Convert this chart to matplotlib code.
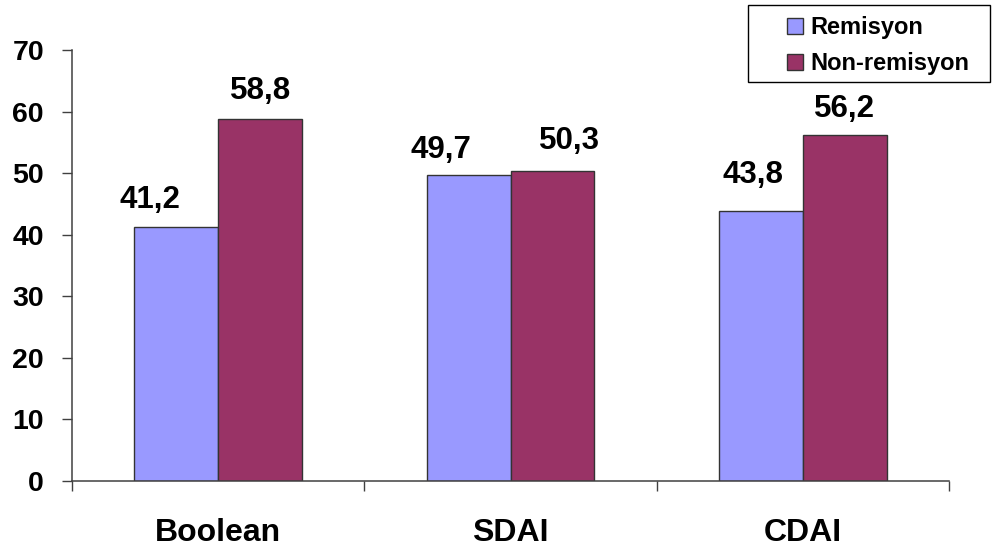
import matplotlib
matplotlib.use("Agg")
import matplotlib.pyplot as plt
import matplotlib.patches as mpatches
from matplotlib.legend_handler import HandlerPatch
import numpy as np

plt.rcParams['font.family'] = ['Liberation Sans', 'DejaVu Sans']
plt.rcParams['font.weight'] = 'bold'

categories = ["Boolean", "SDAI", "CDAI"]
series_names = ["Remisyon", "Non-remisyon"]
remisyon = [41.2, 49.7, 43.8]
non_remisyon = [58.8, 50.3, 56.2]
value_labels = [["41,2", "49,7", "43,8"], ["58,8", "50,3", "56,2"]]
y_ticks = [0, 10, 20, 30, 40, 50, 60, 70]

colors = ["#9999FF", "#993366"]
# label nudges in pixels (dx, dy) so neighbouring labels do not collide
label_shift = [[(-26, 0), (-28, -2), (-8, 9)], [(0, 1), (17, 3), (0, -1)]]

DPI = 100
W, H = 993, 549
fig = plt.figure(figsize=(W / DPI, H / DPI), dpi=DPI)
ax = fig.add_axes([72 / W, 1 - 480.7 / H, (949 - 72) / W, (480.7 - 50) / H])

x = np.arange(len(categories))
w = 0.287
px = 72.0 / DPI  # points per pixel

containers = []
for k, vals in enumerate([remisyon, non_remisyon]):
    xs = x + (k - 0.5) * w
    bc = ax.bar(xs, vals, width=w, color=colors[k], edgecolor="#333333",
                linewidth=1.0, label=series_names[k], zorder=2)
    containers.append(bc)
    for i, (xx, v) in enumerate(zip(xs, vals)):
        dx, dy = label_shift[k][i]
        ax.annotate(value_labels[k][i], (xx, v), xytext=(dx * px, (19 + dy) * px),
                    textcoords="offset points", ha="center", va="baseline",
                    fontsize=22.5, fontweight="bold", color="black")

ax.set_xlim(-0.5, len(categories) - 0.5)
ax.set_ylim(0, 70)
ax.set_yticks(y_ticks)
ax.set_yticklabels([str(t) for t in y_ticks], fontsize=20.5, fontweight="bold")

ax.set_xticks(np.arange(-0.5, len(categories), 1.0))
ax.set_xticklabels([])
ax.set_xticks(x, minor=True)
ax.set_xticklabels(categories, minor=True, fontsize=23, fontweight="bold")
ax.tick_params(axis="x", which="major", direction="out", length=7.2, width=1.0, color="#404040")
ax.tick_params(axis="x", which="minor", length=0, pad=27)
ax.tick_params(axis="y", direction="out", length=7.2, width=1.0, color="#404040", pad=13)

for s in ["top", "right"]:
    ax.spines[s].set_visible(False)
for s in ["left", "bottom"]:
    ax.spines[s].set_color("#404040")
    ax.spines[s].set_linewidth(1.1)


def square_at_right(legend, orig_handle, xdescent, ydescent, width, height, fontsize):
    # small square swatch sitting at the right end of the handle box
    side = height
    return mpatches.Rectangle((width - side - xdescent, -ydescent), side, side)


# legend frame drawn separately so its padding can differ per side
fig.add_artist(mpatches.Rectangle((748 / W, 1 - 82 / H), (990 - 748) / W, (82 - 5) / H,
                                  transform=fig.transFigure, facecolor="white",
                                  edgecolor="black", linewidth=1.0, zorder=5))

handles = [bc.patches[0] for bc in containers]
leg = fig.legend(handles, series_names,
                 loc="upper left", bbox_to_anchor=(772 / W, 1 - 16 / H),
                 fontsize=17, frameon=False,
                 handlelength=1.3, handleheight=0.64, handletextpad=0.34,
                 borderpad=0.0, labelspacing=0.57, borderaxespad=0.0,
                 handler_map={mpatches.Rectangle: HandlerPatch(patch_func=square_at_right)})
leg.set_zorder(6)
for t in leg.get_texts():
    t.set_fontweight("bold")

fig.savefig("out.png", dpi=DPI)
